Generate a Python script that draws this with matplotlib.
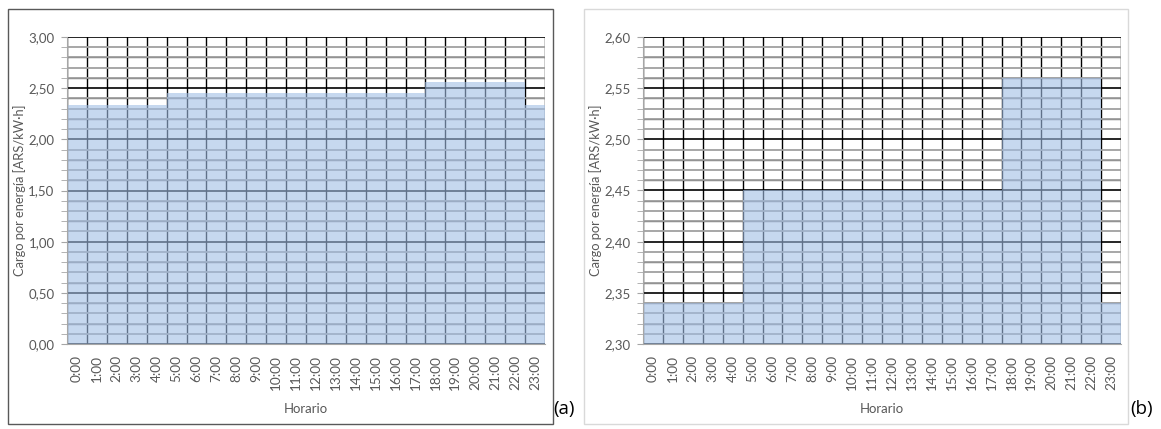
import matplotlib
matplotlib.use("Agg")
import numpy as np
import matplotlib.pyplot as plt
from matplotlib.patches import Rectangle
from matplotlib.ticker import MultipleLocator, FixedLocator

plt.rcParams['font.family'] = ['Lato', 'DejaVu Sans']

hours = [f"{h}:00" for h in range(24)]
cargo = [2.34, 2.34, 2.34, 2.34, 2.34,
         2.45, 2.45, 2.45, 2.45, 2.45, 2.45, 2.45, 2.45, 2.45, 2.45, 2.45, 2.45, 2.45,
         2.56, 2.56, 2.56, 2.56, 2.56,
         2.34]

yticks_a = [0.0, 0.5, 1.0, 1.5, 2.0, 2.5, 3.0]
ylabels_a = ["0,00", "0,50", "1,00", "1,50", "2,00", "2,50", "3,00"]
yticks_b = [2.30, 2.35, 2.40, 2.45, 2.50, 2.55, 2.60]
ylabels_b = ["2,30", "2,35", "2,40", "2,45", "2,50", "2,55", "2,60"]

ylabel = "Cargo por energía [ARS/kW·h]"
xlabel = "Horario"

W, H = 1161, 429
fig = plt.figure(figsize=(W / 100, H / 100), dpi=100)

gray_txt = "#595959"
bar_color = "#A1BEE5"


def px_axes(l, t, r, b):
    return [l / W, 1 - b / H, (r - l) / W, (b - t) / H]


def draw_panel(rect, yt, yl, minor_step, frame, frame_color, tag, tag_x):
    ax = fig.add_axes(px_axes(*rect))
    n = len(hours)
    x = np.arange(n)
    ax.set_axisbelow(True)
    ax.stairs(cargo, np.arange(n + 1) - 0.5, baseline=yt[0], fill=True,
              color=bar_color, alpha=0.6, linewidth=0, zorder=2)
    ax.set_xlim(-0.5, n - 0.5)
    ax.set_ylim(yt[0], yt[-1])
    ax.yaxis.set_major_locator(FixedLocator(yt))
    ax.set_yticklabels(yl)
    ax.yaxis.set_minor_locator(MultipleLocator(minor_step))
    ax.set_xticks(x)
    ax.set_xticklabels(hours, rotation=90)
    ax.xaxis.set_minor_locator(FixedLocator(np.arange(n + 1) - 0.5))
    ax.grid(True, which='minor', axis='y', color='#a0a0a0', linewidth=1.3, zorder=0)
    # darker minor lines every second minor step
    nsteps = int(round((yt[-1] - yt[0]) / minor_step))
    dark = [yt[0] + k * minor_step for k in range(2, nsteps, 2)]
    dark = [v for v in dark if min(abs(v - m) for m in yt) > minor_step / 10]
    ax.hlines(dark, -0.5, n - 0.5, colors='#202020', linewidth=0.9, zorder=0.5)
    ax.grid(True, which='major', axis='y', color='black', linewidth=1.2, zorder=0.6)
    ax.grid(True, which='minor', axis='x', color='black', linewidth=1.0, zorder=0.6)
    ax.grid(False, which='major', axis='x')
    for s in ['top', 'right']:
        ax.spines[s].set_visible(False)
    ax.spines['left'].set_color('#a6a6a6')
    ax.spines['bottom'].set_color('#a6a6a6')
    ax.tick_params(axis='y', which='both', length=4, color='#a6a6a6', labelsize=9.5,
                   labelcolor=gray_txt, pad=5)
    ax.tick_params(axis='x', which='both', length=0, labelsize=9.8, labelcolor=gray_txt, pad=8)
    l, t, r, b = rect
    fig.text((l - 47) / W, 1 - ((t + b) / 2) / H, ylabel, rotation=90, ha='center', va='center',
             fontsize=9.3, color=gray_txt)
    fig.text(((l + r) / 2) / W, 1 - 409 / H, xlabel, ha='center', va='center',
             fontsize=9.5, color=gray_txt)
    fl, ft, fr, fb = frame
    fig.patches.append(Rectangle((fl / W, 1 - fb / H), (fr - fl) / W, (fb - ft) / H,
                                 transform=fig.transFigure, fill=False,
                                 edgecolor=frame_color, linewidth=1.0))
    fig.text(tag_x / W, 1 - 409 / H, tag, ha='left', va='center', fontsize=13.5, color='black',
             family=['Open Sans', 'DejaVu Sans'])
    return ax


draw_panel((67, 37, 545, 344), yticks_a, ylabels_a, 0.1, (8, 9, 553, 424), '#595959', '(a)', 553)
draw_panel((643, 37, 1121, 344), yticks_b, ylabels_b, 0.01, (584, 9, 1128, 424), '#d9d9d9', '(b)', 1130)

fig.savefig("out.png", dpi=100)
